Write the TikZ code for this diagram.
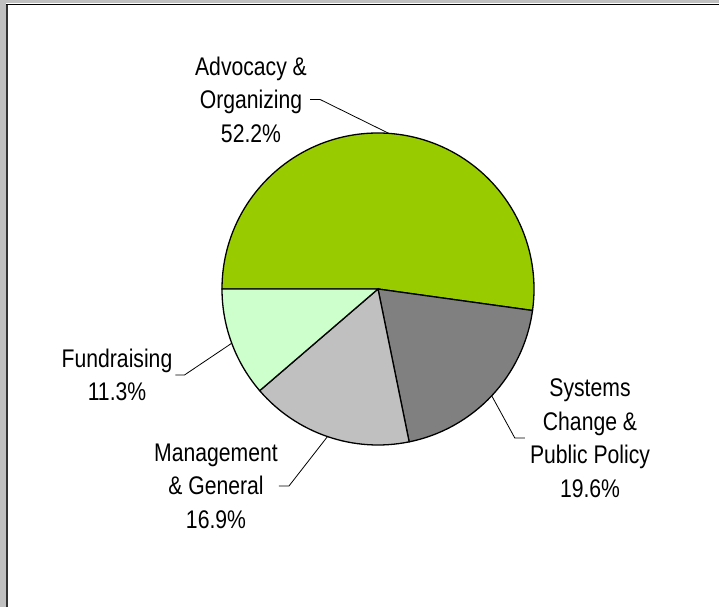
\documentclass[tikz,border=0pt]{standalone}
\usepackage{fontspec}
\newfontfamily\etichetta[FakeStretch=0.83]{Liberation Sans}
\definecolor{verde}{RGB}{153,204,0}
\definecolor{grigioscuro}{RGB}{128,128,128}
\definecolor{grigiochiaro}{RGB}{192,192,192}
\definecolor{verdechiaro}{RGB}{204,255,204}
\definecolor{cornice}{RGB}{192,192,192}
\begin{document}
\begin{tikzpicture}[x=1pt,y=1pt,
    etic/.style={align=center, inner sep=0pt, font=\etichetta\fontsize{25.5}{33.5}\selectfont},
    guida/.style={line width=0.8pt, black},
    fetta/.style={line width=1.3pt, draw=black}]
    % Cornice della finestra
    \useasboundingbox (0,0) rectangle (719,607);
    \fill[cornice] (0,0) rectangle (6,607);
    \fill[cornice] (0,603.5) rectangle (719,607);
    \draw[line width=1.8pt, black!80] (7,0) -- (7,603);
    \draw[line width=1.6pt, black] (6,602.6) -- (719,602.6);

    % Centro della torta
    \coordinate (c) at (378,318);

    % Disegna le fette
    \filldraw[fetta, fill=verde] (c) -- ++(180:156) arc[start angle=180, end angle=-7.92, radius=156] -- cycle;
    \filldraw[fetta, fill=grigioscuro] (c) -- ++(-7.92:156) arc[start angle=-7.92, end angle=-78.48, radius=156] -- cycle;
    \filldraw[fetta, fill=grigiochiaro] (c) -- ++(-78.48:156) arc[start angle=-78.48, end angle=-139.32, radius=156] -- cycle;
    \filldraw[fetta, fill=verdechiaro] (c) -- ++(-139.32:156) arc[start angle=-139.32, end angle=-180, radius=156] -- cycle;

    % Punti sul bordo
    \coordinate (advpt) at ([shift={(86.04:156)}]c);
    \coordinate (syspt) at ([shift={(-43.2:156)}]c);
    \coordinate (manpt) at ([shift={(-108.9:156)}]c);
    \coordinate (fundpt) at ([shift={(-159.66:156)}]c);

    % Etichette
    \node[etic] (adv) at (251,507.5) {Advocacy \&\\Organizing\\52.2\%};
    \node[etic] (sys) at (590,169) {Systems\\Change \&\\Public Policy\\19.6\%};
    \node[etic] (man) at (216,121) {Management\\\& General\\16.9\%};
    \node[etic] (fund) at (117,232) {Fundraising\\11.3\%};

    % Linee guida
    \draw[guida] ([xshift=3pt]adv.east) -- ++(10,0) -- (advpt);
    \draw[guida] ([xshift=-5pt]sys.west) -- ++(-10,0) -- (syspt);
    \draw[guida] ([xshift=1pt]man.east) -- ++(10,0) -- (manpt);
    \draw[guida] ([xshift=3pt]fund.east) -- ++(9,0) -- (fundpt);
\end{tikzpicture}
\end{document}
